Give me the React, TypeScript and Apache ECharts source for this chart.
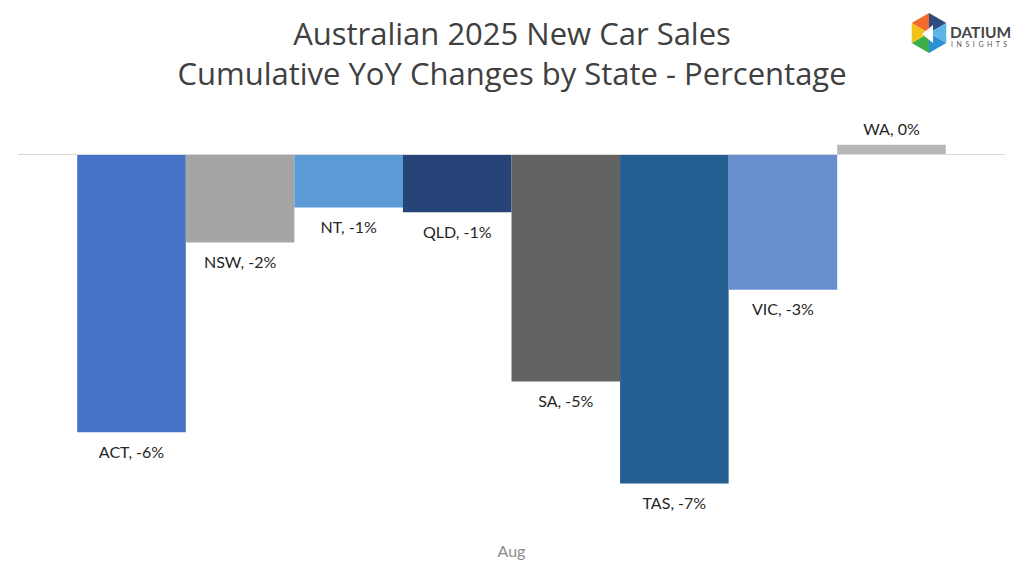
import React, { useEffect, useRef } from "react";
import * as echarts from "echarts";

const categories = ["Aug"];
const states = ["ACT", "NSW", "NT", "QLD", "SA", "TAS", "VIC", "WA"];
const values = [-5.91, -1.87, -1.13, -1.23, -4.83, -7.0, -2.88, 0.21];
const colors = ["#4472C4", "#A5A5A5", "#5B9BD5", "#264478", "#636363", "#255E91", "#698ED0", "#B7B7B7"];

const FONT = "Lato, 'Noto Sans', sans-serif";
const TITLE_FONT = "'Open Sans', 'Noto Sans', sans-serif";

export default function App() {
  const ref = useRef<HTMLDivElement>(null);
  useEffect(() => {
    if (!ref.current) return;
    const chart = echarts.init(ref.current, null, { renderer: "svg" });
    const cx = 929, cy = 33, r = 20;
    const pts: number[][] = [];
    for (let i = 0; i < 6; i++) {
      const a = (Math.PI / 3) * i - Math.PI / 2;
      pts.push([cx + r * Math.cos(a), cy + r * Math.sin(a)]);
    }
    const hexColors = ["#2E4C7E", "#5BB5E6", "#2D8FD4", "#3DAE4A", "#F2C318", "#F26B2A"];
    const tris = hexColors.map((c, i) => ({
      type: "polygon",
      shape: { points: [[cx, cy], pts[i], pts[(i + 1) % 6]] },
      style: { fill: c },
      silent: true,
    }));
    chart.setOption({
      animation: false,
      backgroundColor: "#ffffff",
      title: {
        text: "Australian 2025 New Car Sales\nCumulative YoY Changes by State - Percentage",
        left: "center",
        top: 8,
        textStyle: { fontFamily: TITLE_FONT, fontSize: 31, fontWeight: "normal", color: "#404040", lineHeight: 40 },
      },
      grid: { left: 18, right: 19, top: 107.5, bottom: 40.5, containLabel: false },
      xAxis: {
        type: "category",
        data: categories,
        axisLine: { show: false, onZero: false },
        axisTick: { show: false },
        axisLabel: { fontFamily: FONT, fontSize: 16, color: "#8C8C8C", margin: 12 },
      },
      yAxis: {
        type: "value",
        min: -8,
        max: 1,
        interval: 1,
        show: false,
        splitLine: { show: false },
      },
      series: states.map((s, i) => ({
        name: s,
        type: "bar",
        data: [values[i]],
        barGap: "0%",
        barCategoryGap: "12%",
        itemStyle: { color: colors[i] },
        label: {
          show: true,
          position: values[i] >= 0 ? "top" : "bottom",
          distance: values[i] >= 0 ? 8 : 11,
          fontFamily: FONT,
          fontSize: 16,
          color: "#262626",
          formatter: (p: any) => `${p.seriesName}, ${Math.round(p.value)}%`,
        },
        markLine:
          i === 0
            ? {
                silent: true,
                symbol: "none",
                label: { show: false },
                lineStyle: { color: "#D9D9D9", width: 1, type: "solid" },
                data: [{ yAxis: 0 }],
              }
            : undefined,
      })),
      graphic: [
        ...tris,
        {
          type: "polygon",
          shape: { points: [[cx - 7, cy + 1], [cx + 4, cy - 8], [cx + 4, cy + 10]] },
          style: { fill: "#ffffff" },
          silent: true,
        },
        {
          type: "text",
          x: 950,
          y: 24,
          style: { text: "DATIUM", fontFamily: FONT, fontSize: 15.5, lineHeight: 15, fontWeight: "bold", fill: "#454545" },
          silent: true,
        },
        {
          type: "text",
          x: 951,
          y: 40,
          style: { text: "I  N  S  I  G  H  T  S", fontFamily: FONT, fontSize: 7, lineHeight: 7, fill: "#555555" },
          silent: true,
        },
      ],
    });
    return () => chart.dispose();
  }, []);
  return <div ref={ref} style={{ position: "absolute", left: 0, top: 0, width: 1024, height: 571 }} />;
}
